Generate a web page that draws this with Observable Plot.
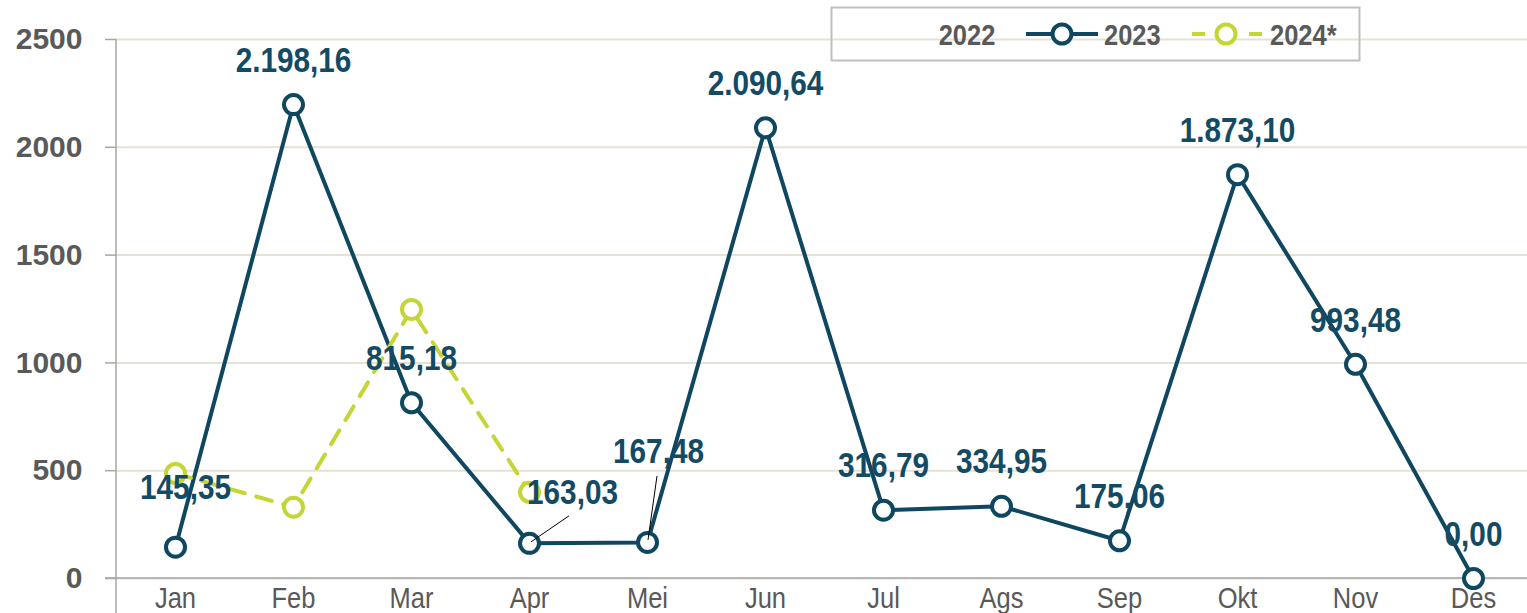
<!DOCTYPE html>
<html><head><meta charset="utf-8">
<script src="https://cdn.jsdelivr.net/npm/d3@7"></script>
<script src="https://cdn.jsdelivr.net/npm/@observablehq/plot@0.6"></script>
<style>
html,body{margin:0;padding:0;background:#fff;}
#chart svg{display:block;}
</style></head><body><div id="chart"></div>
<script>
// ---- data ----
const months = ["Jan","Feb","Mar","Apr","Mei","Jun","Jul","Ags","Sep","Okt","Nov","Des"];
const values2023 = [145.35, 2198.16, 815.18, 163.03, 167.48, 2090.64, 316.79, 334.95, 175.06, 1873.10, 993.48, 0.00];
const months2024 = ["Jan","Feb","Mar","Apr"];
const values2024 = [487, 331, 1248, 400];
const yTicks = [0, 500, 1000, 1500, 2000, 2500];
const seriesNames = ["2022", "2023", "2024*"];

// ---- style ----
const NAVY = "#0f4660";
const LABEL = "#134a64";
const GREEN = "#c4d535";
const GREY = "#595959";
const SANS = "'Liberation Sans',Arial,sans-serif";
const NARROW_K = 0.85; // horizontal condensing (Arial Narrow look)
const LW = 4, R = 9.5;
const labelOffsets = {Jan: [10, -59], Apr: [43, -51], Mei: [11, -91]};
const leaders = {Apr: [[2, -1], [40, -27]], Mei: [[1, -2], [10, -66]]};

const data2023 = months.map((m, i) => ({month: m, value: values2023[i]}));
const data2024 = months2024.map((m, i) => ({month: m, value: values2024[i]}));
const fmt = d3.formatLocale({decimal: ",", thousands: ".", grouping: [3], currency: ["", ""]}).format(",.2f");

const W = 1527, H = 613;

const labelMarks = data2023.map(d => {
  const [dx, dy] = labelOffsets[d.month] || [0, -44];
  return Plot.text([d], {x: "month", y: "value", text: e => fmt(e.value), dx, dy,
    fill: LABEL, fontSize: 35, fontWeight: "bold", fontFamily: SANS});
});

function leaderMark(index, scales) {
  const g = d3.create("svg:g").attr("stroke", "#000").attr("stroke-width", 1);
  data2023.filter(d => leaders[d.month]).forEach(d => {
    const x = scales.x(d.month), y = scales.y(d.value);
    const [[a, b], [c, e]] = leaders[d.month];
    g.append("line").attr("x1", x + a).attr("y1", y + b).attr("x2", x + c).attr("y2", y + e);
  });
  return g.node();
}

function axisLines(index, scales, values, dim) {
  const g = d3.create("svg:g").attr("stroke", "#a6a6a6").attr("stroke-width", 1.5);
  g.append("line").attr("x1", dim.marginLeft).attr("x2", dim.marginLeft)
    .attr("y1", dim.marginTop).attr("y2", dim.height);
  g.append("line").attr("x1", dim.marginLeft - 11).attr("x2", dim.width)
    .attr("y1", scales.y(0)).attr("y2", scales.y(0));
  return g.node();
}

function legendMark() {
  const g = d3.create("svg:g");
  g.append("rect").attr("x", 831.5).attr("y", 7.5).attr("width", 528).attr("height", 53)
    .attr("fill", "none").attr("stroke", "#bfbfbf").attr("stroke-width", 2);
  const ty = 34;
  const txt = (x, s, anchor) => g.append("text")
    .attr("transform", `translate(${x},${ty}) scale(${NARROW_K},1)`).attr("dy", "0.36em")
    .attr("text-anchor", anchor).attr("fill", GREY).attr("font-weight", "bold")
    .attr("font-size", 30).attr("font-family", SANS).text(s);
  txt(967, seriesNames[0], "middle");
  g.append("line").attr("x1", 1026).attr("x2", 1098).attr("y1", ty).attr("y2", ty)
    .attr("stroke", NAVY).attr("stroke-width", LW);
  g.append("circle").attr("cx", 1062).attr("cy", ty).attr("r", R)
    .attr("fill", "#fff").attr("stroke", NAVY).attr("stroke-width", LW);
  txt(1104, seriesNames[1], "start");
  g.append("line").attr("x1", 1192).attr("x2", 1205).attr("y1", ty).attr("y2", ty)
    .attr("stroke", GREEN).attr("stroke-width", LW);
  g.append("line").attr("x1", 1249).attr("x2", 1262).attr("y1", ty).attr("y2", ty)
    .attr("stroke", GREEN).attr("stroke-width", LW);
  g.append("circle").attr("cx", 1226).attr("cy", ty).attr("r", R)
    .attr("fill", "#fff").attr("stroke", GREEN).attr("stroke-width", LW);
  txt(1270, seriesNames[2], "start");
  return g.node();
}

const chart = Plot.plot({
  width: W, height: H,
  marginLeft: 116, marginRight: 0, marginTop: 39, marginBottom: 35,
  style: {background: "#fff", overflow: "hidden"},
  x: {type: "point", domain: months, range: [116, 1532], padding: 0.5, label: null},
  y: {domain: [0, 2500], label: null},
  marks: [
    Plot.gridY(yTicks, {stroke: "#e6e1d5", strokeOpacity: 1, strokeWidth: 2}),
    Plot.axisY(yTicks, {tickSize: 11, tickPadding: 23, fontSize: 30, fontWeight: "bold",
      fontFamily: SANS, fill: GREY, stroke: "#a6a6a6", strokeWidth: 1.5, label: null,
      tickFormat: d => String(d)}),
    Plot.axisX(months, {tickSize: 0, tickPadding: 8, fontSize: 30, fontFamily: SANS,
      fill: GREY, label: null}),
    axisLines,
    legendMark,
    Plot.line(data2023, {x: "month", y: "value", stroke: NAVY, strokeWidth: LW}),
    Plot.dot(data2023, {x: "month", y: "value", r: R, fill: "#fff", stroke: NAVY, strokeWidth: LW}),
    Plot.line(data2024, {x: "month", y: "value", stroke: GREEN, strokeWidth: LW, strokeDasharray: "16,12"}),
    Plot.dot(data2024, {x: "month", y: "value", r: R, fill: "#fff", stroke: GREEN, strokeWidth: LW}),
    leaderMark,
    ...labelMarks
  ]
});
document.getElementById("chart").appendChild(chart);

// condense label glyphs horizontally (Arial Narrow look)
function condenseText(t, k) {
  let tr = t.getAttribute("transform") || "";
  const x = t.getAttribute("x");
  if (x != null && !isNaN(+x)) { tr += ` translate(${x},0)`; t.removeAttribute("x"); }
  t.setAttribute("transform", `${tr} scale(${k},1)`);
}
const labelTexts = new Set(values2023.map(fmt));
chart.querySelectorAll("text").forEach(t => {
  const s = t.textContent;
  if (labelTexts.has(s) || months.includes(s)) condenseText(t, NARROW_K);
});
</script></body></html>
